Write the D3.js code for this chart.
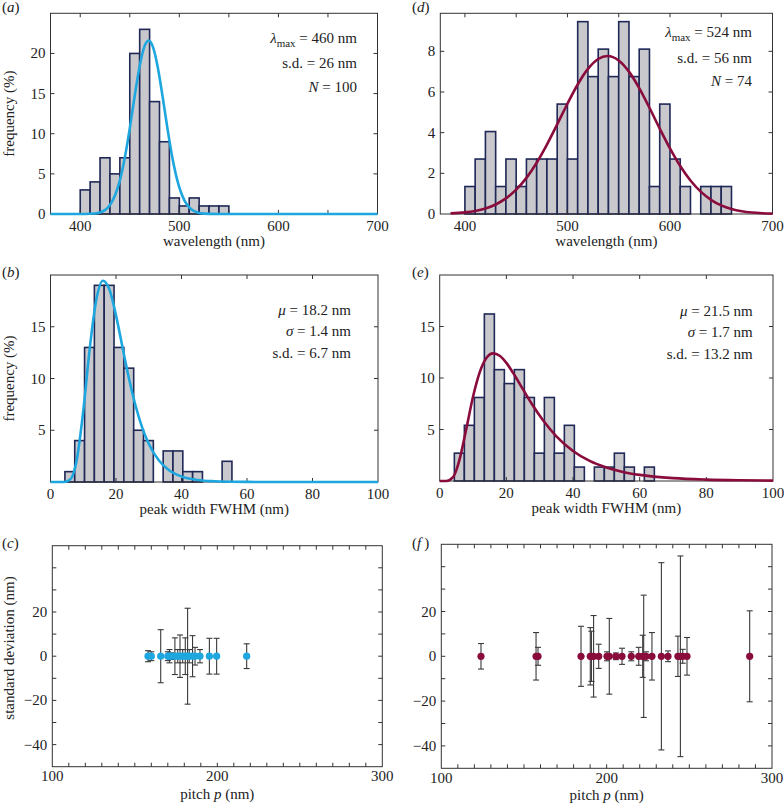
<!DOCTYPE html>
<html><head><meta charset="utf-8">
<script src="https://cdn.jsdelivr.net/npm/d3@7"></script>
<style>
body{margin:0;background:#fff}
svg text{font-family:"Liberation Serif","DejaVu Serif","Times New Roman",serif;fill:#222}
</style>
</head><body>
<svg id="chart" width="784" height="807" font-family="Liberation Serif, DejaVu Serif, serif"></svg>
<script>
// ---------------- DATA ----------------
// (a) wavelength histogram, left column (percent, N = 100)
const binsA = [400,410,420,430,440,450,460,470,480,490,500,510,520,530,540];
const freqA = [3,4,7,5,7,20,23,14,9,2,1,2,1,1,1];
const fitA = [[370,0],[400,0.003],[410,0.025],[420,0.2],[430,1.11],[440,4.18],[445,7.01],[450,10.67],[455,14.73],[460,18.44],[465,20.94],[469,21.6],[473,20.94],[478,18.44],[483,14.73],[488,10.67],[493,7.01],[498,4.18],[505,1.72],[510,0.81],[520,0.13],[530,0.015],[542,0],[700,0]];
const annotA = ["460","26","100"];

// (d) wavelength histogram, right column (counts, N = 74)
const binsD = [400,410,420,430,440,450,460,470,480,490,500,510,520,530,540,550,560,570,580,590,600,610,620,630,640,650];
const countsD = [1,2,3,1,2,1,2,2,2,4,2,7,5,6,5,7,5,6,1,4,2,1,0,1,1,1];
const totalD = 74;
const fitD = [[386,0.031],[400,0.081],[410,0.152],[420,0.274],[430,0.469],[440,0.767],[450,1.195],[460,1.778],[470,2.523],[480,3.413],[490,4.406],[500,5.423],[510,6.37],[520,7.134],[530,7.623],[539,7.77],[550,7.551],[560,7.001],[570,6.191],[580,5.224],[590,4.202],[600,3.226],[610,2.361],[620,1.649],[630,1.098],[640,0.698],[650,0.423],[660,0.245],[670,0.135],[680,0.071],[690,0.036],[700,0.017]];
const annotD = ["524","56","74"];

// (b) FWHM histogram, left column (percent)
const binsB = [4.4,7.4,10.4,13.4,16.4,19.4,22.4,25.4,28.4,31.4,34.4,37.4,40.4,43.4,46.4,49.4,52.4];
const freqB = [1,4,13,19,19,13,11,5,4,0,3,3,1,1,0,0,2];
const fitB = [[0,0],[4,0.003],[6,0.24],[8,2.11],[10,6.85],[12,12.96],[14,17.64],[16,19.45],[18,18.6],[20,16.1],[22,12.99],[24,9.95],[26,7.34],[28,5.26],[30,3.7],[33,2.12],[36,1.19],[40,0.54],[45,0.198],[50,0.073],[55,0.027],[60,0.01],[70,0],[100,0]];
const annotB = ["18.2","1.4","6.7"];

// (e) FWHM histogram, right column (counts, N = 74)
const binsE = [4.4,7.4,10.4,13.4,16.4,19.4,22.4,25.4,28.4,31.4,34.4,37.4,40.4,43.4,46.4,49.4,52.4,55.4,58.4,61.4];
const countsE = [2,4,6,12,8,7,8,6,2,6,2,4,1,0,1,1,2,1,0,1];
const totalE = 74;
const fitE = [[0,0],[2,0.005],[4,0.38],[5,1.06],[6,2.14],[8,5.1],[10,8.18],[12,10.54],[14,11.93],[16,12.39],[18,12.16],[20,11.47],[22,10.51],[25,8.89],[28,7.3],[31,5.89],[35,4.34],[40,2.92],[45,1.95],[50,1.31],[55,0.878],[60,0.594],[70,0.278],[80,0.135],[90,0.067],[100,0.035]];
const annotE = ["21.5","1.7","13.2"];

// (c) standard deviation vs pitch, left column
const pitchC = [158,160,165.7,170,171,172,174.3,176,177.4,179,180.6,182,183,185,186.5,189.5,195.2,199.6,217.8];
const sdC    = [2.5,2,12,2,3,1.5,8.3,3,9.6,3,8.3,21.7,3,9.3,4,3,8.1,8.1,5.6];

// (f) standard deviation vs pitch, right column
const pitchF = [124,157.3,158.5,184.5,190.1,190.8,192.1,195.2,200.2,201.6,205.6,209.3,214.9,219.4,221.8,222.4,223.8,227.4,233.1,237.1,243.1,244.6,246,248.6,286.5];
const sdF    = [5.7,10.6,4,13.4,12.8,11.2,18.2,5.4,2,16.9,1.5,3.6,2,4,9.4,27.3,2,10.6,41.8,2.4,9,44.8,3.1,8.4,20.3];

// ---------------- STYLE ----------------
const BLUE = "#1ea6df", RED = "#8a0c3c", BARFILL = "#c9c9cd", BARSTROKE = "#1f2856", FRAME = "#333";
const FS = 15;

const svg = d3.select("#chart");

function frameAndTicks(g, x, y, xTicks, yTicks, xLabels, yLabels, xLabelDy) {
  const [x0, x1] = x.range(), [y0, y1] = y.range(); // y0 bottom, y1 top
  const tl = 4;
  xTicks.forEach(t => {
    const px = x(t);
    g.append("line").attr("x1", px).attr("x2", px).attr("y1", y0).attr("y2", y0 - tl).attr("stroke", FRAME).attr("stroke-width", 1);
    g.append("line").attr("x1", px).attr("x2", px).attr("y1", y1).attr("y2", y1 + tl).attr("stroke", FRAME).attr("stroke-width", 1);
  });
  yTicks.forEach(t => {
    const py = y(t);
    g.append("line").attr("x1", x0).attr("x2", x0 + tl).attr("y1", py).attr("y2", py).attr("stroke", FRAME).attr("stroke-width", 1);
    g.append("line").attr("x1", x1).attr("x2", x1 - tl).attr("y1", py).attr("y2", py).attr("stroke", FRAME).attr("stroke-width", 1);
  });
  xLabels.forEach(t => {
    g.append("text").attr("x", x(t)).attr("y", y0 + xLabelDy).attr("text-anchor", "middle").attr("font-size", FS).text(t);
  });
  yLabels.forEach(t => {
    g.append("text").attr("x", x0 - 5).attr("y", y(t) + 5).attr("text-anchor", "end").attr("font-size", FS).text(t < 0 ? "\u2212" + Math.abs(t) : t);
  });
}

function frameRect(g, x, y) {
  const [x0, x1] = x.range(), [y0, y1] = y.range();
  g.append("rect").attr("x", x0).attr("y", y1).attr("width", x1 - x0).attr("height", y0 - y1)
    .attr("fill", "none").attr("stroke", FRAME).attr("stroke-width", 1);
}

function panelLabel(x, y, letter) {
  const t = svg.append("text").attr("x", x).attr("y", y).attr("font-size", FS);
  t.append("tspan").text("(");
  t.append("tspan").attr("font-style", "italic").text(letter);
  t.append("tspan").text(letter === "f" ? "\u2009)" : ")");
}

function histogram(opts) {
  const g = svg.append("g");
  const x = d3.scaleLinear().domain(opts.xDomain).range([opts.left, opts.right]);
  const y = d3.scaleLinear().domain(opts.yDomain).range([opts.bottom, opts.top]);
  g.selectAll("rect.bar").data(opts.bins.map((b, i) => ({x0: b, x1: b + opts.binWidth, v: opts.values[i]})).filter(d => d.v > 0))
    .join("rect").attr("class", "bar")
    .attr("x", d => x(d.x0)).attr("width", d => x(d.x1) - x(d.x0))
    .attr("y", d => y(d.v)).attr("height", d => y(0) - y(d.v))
    .attr("fill", BARFILL).attr("stroke", BARSTROKE).attr("stroke-width", 1.6);
  frameRect(g, x, y);
  frameAndTicks(g, x, y, opts.xTicks, opts.yTicks, opts.xLabels, opts.yLabels, 17);
  const line = d3.line().x(d => x(d[0])).y(d => y(d[1])).curve(d3.curveMonotoneX);
  g.append("path").datum(opts.fit).attr("d", line).attr("fill", "none").attr("stroke", opts.color).attr("stroke-width", 2.6);
  g.append("text").attr("x", (opts.left + opts.right) / 2).attr("y", opts.bottom + 32).attr("text-anchor", "middle").attr("font-size", FS).text(opts.xTitle);
  if (opts.yTitle) {
    g.append("text").attr("transform", `translate(${opts.yTitleX},${(opts.top + opts.bottom) / 2}) rotate(-90)`)
      .attr("text-anchor", "middle").attr("font-size", FS).text(opts.yTitle);
  }
  return g;
}

function annotLines(g, xRight, ys, kind, vals) {
  if (kind === "wl") {
    const t1 = g.append("text").attr("x", xRight).attr("y", ys[0]).attr("text-anchor", "end").attr("font-size", FS);
    t1.append("tspan").attr("font-style", "italic").text("\u03BB");
    t1.append("tspan").attr("font-size", 11).attr("dy", 4).text("max");
    t1.append("tspan").attr("dy", -4).text(" = " + vals[0] + " nm");
    g.append("text").attr("x", xRight).attr("y", ys[1]).attr("text-anchor", "end").attr("font-size", FS).text("s.d. = " + vals[1] + " nm");
    const t3 = g.append("text").attr("x", xRight).attr("y", ys[2]).attr("text-anchor", "end").attr("font-size", FS);
    t3.append("tspan").attr("font-style", "italic").text("N");
    t3.append("tspan").text(" = " + vals[2]);
  } else {
    const t1 = g.append("text").attr("x", xRight).attr("y", ys[0]).attr("text-anchor", "end").attr("font-size", FS);
    t1.append("tspan").attr("font-style", "italic").text("\u03BC");
    t1.append("tspan").text(" = " + vals[0] + " nm");
    const t2 = g.append("text").attr("x", xRight).attr("y", ys[1]).attr("text-anchor", "end").attr("font-size", FS);
    t2.append("tspan").attr("font-style", "italic").text("\u03C3");
    t2.append("tspan").text(" = " + vals[1] + " nm");
    g.append("text").attr("x", xRight).attr("y", ys[2]).attr("text-anchor", "end").attr("font-size", FS).text("s.d. = " + vals[2] + " nm");
  }
}

// (a)
const gA = histogram({left: 50.5, right: 377.5, top: 13.3, bottom: 214, xDomain: [370, 700], yDomain: [0, 25],
  bins: binsA, binWidth: 10, values: freqA, fit: fitA, color: BLUE,
  xTicks: [400,450,500,550,600,650,700], yTicks: [5,10,15,20], xLabels: [400,500,600,700], yLabels: [0,5,10,15,20],
  xTitle: "wavelength (nm)", yTitle: "frequency (%)", yTitleX: 14});
annotLines(gA, 357, [43, 68, 92], "wl", annotA);

// (d)
const gD = histogram({left: 440.3, right: 772.5, top: 13.3, bottom: 214, xDomain: [376, 700], yDomain: [0, 9.87],
  bins: binsD, binWidth: 10, values: countsD.map(c => c / totalD * 100), fit: fitD, color: RED,
  xTicks: [400,450,500,550,600,650,700], yTicks: [2,4,6,8], xLabels: [400,500,600,700], yLabels: [0,2,4,6,8],
  xTitle: "wavelength (nm)"});
annotLines(gD, 752, [37, 63, 86], "wl", annotD);

// (b)
const gB = histogram({left: 50.5, right: 378, top: 275, bottom: 482, xDomain: [0, 100], yDomain: [0, 20],
  bins: binsB, binWidth: 3, values: freqB, fit: fitB, color: BLUE,
  xTicks: [20,40,60,80], yTicks: [5,10,15], xLabels: [0,20,40,60,80,100], yLabels: [5,10,15],
  xTitle: "peak width FWHM (nm)", yTitle: "frequency (%)", yTitleX: 14});
annotLines(gB, 351, [315, 336, 358], "pk", annotB);

// (e)
const gE = histogram({left: 439.7, right: 773, top: 275, bottom: 481, xDomain: [0, 100], yDomain: [0, 20],
  bins: binsE, binWidth: 3, values: countsE.map(c => c / totalE * 100), fit: fitE, color: RED,
  xTicks: [20,40,60,80], yTicks: [5,10,15], xLabels: [0,20,40,60,80,100], yLabels: [5,10,15],
  xTitle: "peak width FWHM (nm)"});
annotLines(gE, 752.7, [316, 337, 359], "pk", annotE);

// scatter with error bars
function scatter(opts) {
  const g = svg.append("g");
  const x = d3.scaleLinear().domain([100, 300]).range([opts.left, opts.right]);
  const y = d3.scaleLinear().domain([-50, 50]).range([opts.bottom, opts.top]);
  frameRect(g, x, y);
  frameAndTicks(g, x, y, d3.range(110, 300, 10), d3.range(-40, 50, 10), [100, 200, 300], [-40, -20, 0, 20], 14.5);
  const pts = opts.px.map((p, i) => ({p, s: opts.sd[i]}));
  const eb = g.append("g").attr("stroke", "#3a3a3a").attr("stroke-width", 1.1);
  pts.forEach(d => {
    const xx = x(d.p), yt = y(d.s), yb = y(-d.s);
    eb.append("line").attr("x1", xx).attr("x2", xx).attr("y1", yt).attr("y2", yb);
    eb.append("line").attr("x1", xx - 3).attr("x2", xx + 3).attr("y1", yt).attr("y2", yt);
    eb.append("line").attr("x1", xx - 3).attr("x2", xx + 3).attr("y1", yb).attr("y2", yb);
  });
  g.selectAll("circle").data(pts).join("circle").attr("cx", d => x(d.p)).attr("cy", y(0)).attr("r", 3.6).attr("fill", opts.color);
  const t = g.append("text").attr("x", (opts.left + opts.right) / 2).attr("y", opts.bottom + 32).attr("text-anchor", "middle").attr("font-size", FS);
  t.append("tspan").text("pitch ");
  t.append("tspan").attr("font-style", "italic").text("p");
  t.append("tspan").text(" (nm)");
  if (opts.yTitle) {
    g.append("text").attr("transform", `translate(14,648) rotate(-90)`).attr("text-anchor", "middle").attr("font-size", FS).text(opts.yTitle);
  }
}
scatter({left: 52.3, right: 382.3, top: 545.7, bottom: 766.7, px: pitchC, sd: sdC, color: BLUE, yTitle: "standard deviation (nm)"});
scatter({left: 441.3, right: 772, top: 544.3, bottom: 768.3, px: pitchF, sd: sdF, color: RED});

panelLabel(2, 12, "a");
panelLabel(412, 12, "d");
panelLabel(2, 277, "b");
panelLabel(412, 277, "e");
panelLabel(2, 548, "c");
panelLabel(412, 548, "f");
</script>
</body></html>
